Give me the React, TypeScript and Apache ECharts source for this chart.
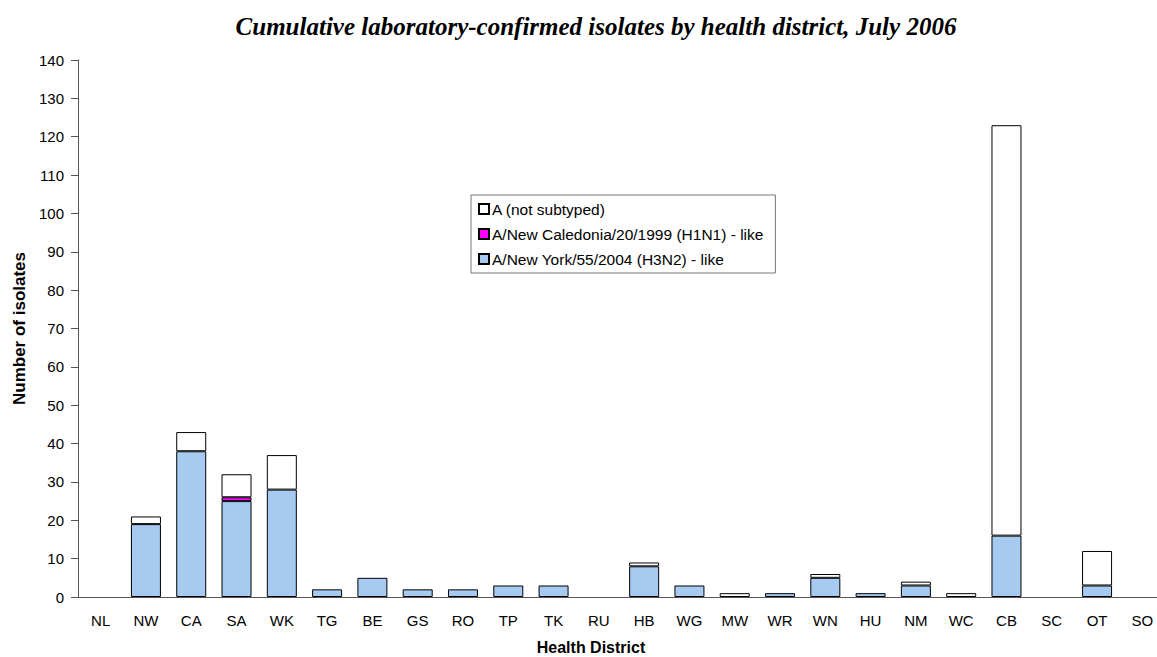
import React, { useEffect, useRef } from "react";
import * as echarts from "echarts";

const districts = ["NL","NW","CA","SA","WK","TG","BE","GS","RO","TP","TK","RU","HB","WG","MW","WR","WN","HU","NM","WC","CB","SC","OT","SO"];
const newYork = [null,19,38,25,28,2,5,2,2,3,3,null,8,3,null,1,5,1,3,null,16,null,3,null];
const newCaledonia = [null,null,null,1,null,null,null,null,null,null,null,null,null,null,null,null,null,null,null,null,null,null,null,null];
const notSubtyped = [null,2,5,6,9,null,null,null,null,null,null,null,1,null,1,null,1,null,1,1,107,null,9,null];
const yTicks = { min: 0, max: 140, interval: 10 };

const nameNotSub = "A (not subtyped)";
const nameCal = "A/New Caledonia/20/1999 (H1N1) - like";
const nameNY = "A/New York/55/2004 (H3N2) - like";

export default function App() {
  const ref = useRef<HTMLDivElement>(null);
  useEffect(() => {
    if (!ref.current) return;
    const chart = echarts.init(ref.current, undefined, { renderer: "svg" });
    const font = "Liberation Sans, Arial, sans-serif";
    const barStyle = (color: string) => ({ color, borderColor: "#000", borderWidth: 1 });
    chart.setOption({
      animation: false,
      title: {
        text: "Cumulative laboratory-confirmed isolates by health district, July 2006",
        left: 591,
        textAlign: "center",
        top: 9,
        textStyle: { fontFamily: "Liberation Serif, Times New Roman, serif", fontStyle: "italic", fontWeight: "bold", fontSize: 25, color: "#000" },
      },
      legend: {
        orient: "vertical",
        left: 471,
        top: 195,
        padding: [6, 12, 6, 7],
        itemGap: 9,
        itemWidth: 10,
        itemHeight: 10,
        borderColor: "#777",
        borderWidth: 1,
        icon: "rect",
        selectedMode: false,
        textStyle: { fontFamily: font, fontSize: 15.5, color: "#000", padding: [0, 0, 0, -2] },
        data: [nameNotSub, nameCal, nameNY],
      },
      grid: { left: 78, top: 60, right: 10, bottom: 60 },
      xAxis: {
        type: "category",
        data: districts,
        axisLine: { lineStyle: { color: "#555" } },
        axisTick: { length: 5, lineStyle: { color: "#555" } },
        axisLabel: { fontFamily: font, fontSize: 15, color: "#000", margin: 16, interval: 0 },
      },
      yAxis: {
        type: "value",
        min: yTicks.min,
        max: yTicks.max,
        interval: yTicks.interval,
        name: "Number of isolates",
        nameLocation: "middle",
        nameGap: 49,
        nameTextStyle: { fontFamily: font, fontSize: 17, fontWeight: "bold", color: "#000" },
        splitLine: { show: false },
        axisLine: { show: true, lineStyle: { color: "#555" } },
        axisTick: { show: true, length: 7, lineStyle: { color: "#555" } },
        axisLabel: { fontFamily: font, fontSize: 15, color: "#000", margin: 14 },
      },
      graphic: [
        {
          type: "text",
          x: 591,
          y: 647,
          style: { text: "Health District", font: "bold 16px Liberation Sans, Arial, sans-serif", fill: "#000", align: "center", verticalAlign: "middle" },
        },
      ],
      series: [
        { name: nameNY, type: "bar", stack: "s", data: newYork, barWidth: 30, itemStyle: barStyle("#A6CAF0"), emphasis: { disabled: true } },
        { name: nameCal, type: "bar", stack: "s", data: newCaledonia, barWidth: 30, itemStyle: barStyle("#FF00FF"), emphasis: { disabled: true } },
        { name: nameNotSub, type: "bar", stack: "s", data: notSubtyped, barWidth: 30, itemStyle: barStyle("#FFFFFF"), emphasis: { disabled: true } },
      ],
    });
    return () => chart.dispose();
  }, []);
  return (
    <div style={{ position: "absolute", left: 0, top: 0, width: 1157, height: 657, overflow: "hidden" }}>
      <div ref={ref} style={{ width: 1175, height: 657 }} />
    </div>
  );
}
